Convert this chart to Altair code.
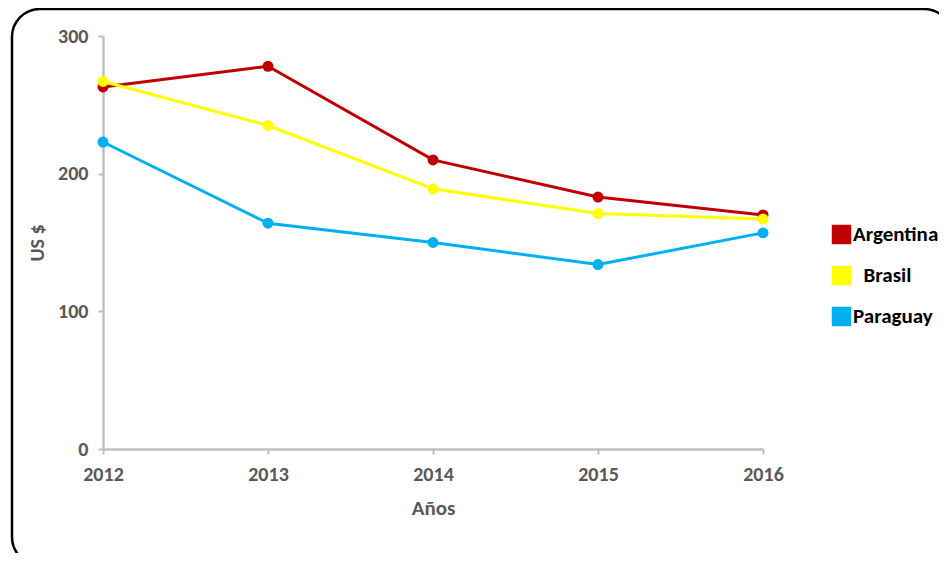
import altair as alt
import pandas as pd

years = [2012, 2013, 2014, 2015, 2016]
countries = ["Argentina", "Brasil", "Paraguay"]
argentina = [263, 278, 210, 183, 170]
brasil = [267, 235, 189, 171, 167]
paraguay = [223, 164, 150, 134, 157]
colors = ["#C00000", "#FFFF00", "#00B0F0"]

rows = []
for c, vals in zip(countries, [argentina, brasil, paraguay]):
    for y, v in zip(years, vals):
        rows.append({"Año": y, "País": c, "Valor": v})
df = pd.DataFrame(rows)

FONT = "Carlito, 'Liberation Sans Narrow', 'DejaVu Sans Condensed', sans-serif"
GRAY = "#595959"
AXC = "#BFBFBF"

x = alt.X("Año:Q",
          scale=alt.Scale(domain=[2012, 2016], nice=False, zero=False),
          axis=alt.Axis(values=years, format="d", title="Años", grid=False,
                        domainColor=AXC, domainWidth=2.5, tickColor=AXC, tickWidth=2,
                        tickSize=5, labelPadding=10, labelFontSize=20, labelFont=FONT,
                        labelFontWeight="bold", labelColor=GRAY, labelFlush=False,
                        titleFont=FONT, titleFontSize=21, titleFontWeight="bold",
                        titleColor=GRAY, titlePadding=13))
y = alt.Y("Valor:Q",
          scale=alt.Scale(domain=[0, 300], nice=False),
          axis=alt.Axis(values=[0, 100, 200, 300], title="US $", grid=False,
                        domainColor=AXC, domainWidth=2.5, tickColor=AXC, tickWidth=2,
                        tickSize=5, labelPadding=10, labelFontSize=20, labelFont=FONT,
                        labelFontWeight="bold", labelColor=GRAY, labelFlush=False,
                        titleFont=FONT, titleFontSize=20, titleFontWeight="bold",
                        titleColor=GRAY, titlePadding=10))
color = alt.Color("País:N",
                  scale=alt.Scale(domain=countries, range=colors),
                  legend=alt.Legend(title=None, orient="none", legendX=728, legendY=188,
                                    symbolType="square", symbolSize=380,
                                    symbolStrokeWidth=0, symbolOpacity=1,
                                    labelFont=FONT, labelFontSize=21,
                                    labelFontWeight="bold", labelColor="#000000",
                                    labelOffset=1, rowPadding=19, padding=0,
                                    labelExpr="datum.label == 'Brasil' ? '\u200b\u2002Brasil' : datum.label"))

frame = alt.Chart(pd.DataFrame({"k": [0]})).mark_rect(
    fill=None, stroke="#000000", strokeWidth=2.5, cornerRadius=28, clip=False
).encode(x=alt.value(-91), x2=alt.value(849), y=alt.value(-27), y2=alt.value(529))

base = alt.Chart(df)
lines = base.mark_line(strokeWidth=3).encode(x=x, y=y, color=color, order="Año:Q")
points = base.mark_circle(size=120, opacity=1).encode(x=x, y=y, color=color)

chart = alt.layer(frame, lines, points).properties(
    width=660, height=413,
    background="white",
    autosize=alt.AutoSizeParams(type="none"),
    padding={"left": 95, "top": 28, "right": 176, "bottom": 104},
).configure_view(stroke="transparent", strokeWidth=0)

chart.save("out.html", embed_options={"renderer": "svg", "actions": False})
